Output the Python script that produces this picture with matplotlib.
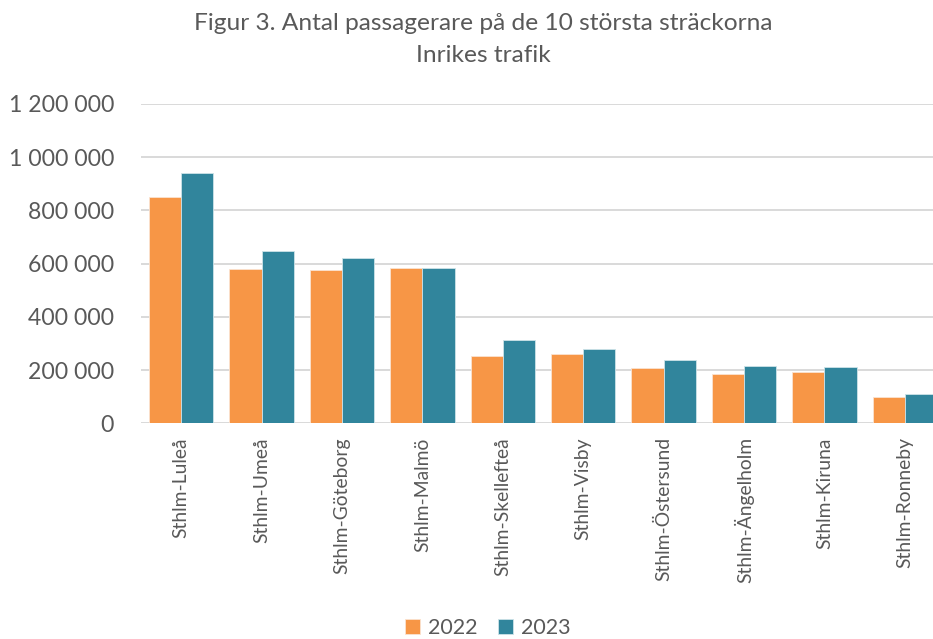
import numpy as np
import matplotlib
matplotlib.use("Agg")
import matplotlib.pyplot as plt
from matplotlib.ticker import FuncFormatter

plt.rcParams["font.family"] = ["Lato", "DejaVu Sans"]

# ── Data ──────────────────────────────────────────────────────────────────────
routes = ["Sthlm-Luleå", "Sthlm-Umeå", "Sthlm-Göteborg", "Sthlm-Malmö",
          "Sthlm-Skellefteå", "Sthlm-Visby", "Sthlm-Östersund",
          "Sthlm-Ängelholm", "Sthlm-Kiruna", "Sthlm-Ronneby"]
pax_2022 = [850000, 580000, 576000, 582000, 254000, 259000, 207000, 185000, 193000, 99000]
pax_2023 = [941000, 646000, 620000, 585000, 313000, 278000, 239000, 216000, 210000, 109000]
yticks = [0, 200000, 400000, 600000, 800000, 1000000, 1200000]
title_1 = "Figur 3. Antal passagerare på de 10 största sträckorna"
title_2 = "Inrikes trafik"

ORANGE = "#F79646"
TEAL = "#31859C"
TEXT = "#595959"

fig = plt.figure(figsize=(9.33, 6.39), dpi=100)
renderer = fig.canvas.get_renderer()


def fit_size(s, target_px):
    # font size (pt) that makes text s about target_px wide
    t = fig.text(0, 0, s, fontsize=10)
    w = t.get_window_extent(renderer=renderer).width
    t.remove()
    return 10 * target_px / w


title_fs = fit_size(title_1, 578)
ytick_fs = fit_size("1 200 000", 105)
xtick_fs = fit_size("Sthlm-Ronneby", 131)
leg_fs = fit_size("2022", 50)

ax = fig.add_axes([141 / 933, 1 - 423.3 / 639, 804 / 933, 319.5 / 639])

x = np.arange(len(routes))
w = 0.4
ax.bar(x - w / 2, pax_2022, w, color=ORANGE, edgecolor="#FBE3D0", linewidth=0.6,
       label="2022", zorder=3)
ax.bar(x + w / 2, pax_2023, w, color=TEAL, edgecolor="#CDE3E8", linewidth=0.6,
       label="2023", zorder=3)

ax.set_xlim(-0.5, len(routes) - 0.5)
ax.set_ylim(0, 1200000)
ax.set_yticks(yticks)
ax.yaxis.set_major_formatter(FuncFormatter(lambda v, _: f"{int(v):,}".replace(",", " ")))
ax.grid(axis="y", color="#D9D9D9", linewidth=1.4, zorder=0)
for s in ax.spines.values():
    s.set_visible(False)
ax.tick_params(axis="y", length=0, pad=19.4, labelsize=ytick_fs, labelcolor=TEXT)
ax.set_xticks(x)
ax.set_xticklabels(routes, rotation=90, fontsize=xtick_fs, color=TEXT)
ax.tick_params(axis="x", length=0, pad=10)

fig.text(483 / 933, 1 - 23 / 639, title_1, ha="center", va="center",
         fontsize=title_fs, color=TEXT)
fig.text(483 / 933, 1 - 56 / 639, title_2, ha="center", va="center",
         fontsize=title_fs, color=TEXT)

sq = 15 / (leg_fs * 100 / 72)
fig.legend(loc="center", bbox_to_anchor=(488 / 933, 1 - 628 / 639), ncol=2,
           frameon=False, fontsize=leg_fs, labelcolor=TEXT,
           handlelength=sq, handleheight=sq,
           handletextpad=8 / (leg_fs * 100 / 72),
           columnspacing=21 / (leg_fs * 100 / 72), borderpad=0)

fig.savefig("out.png", dpi=100)
